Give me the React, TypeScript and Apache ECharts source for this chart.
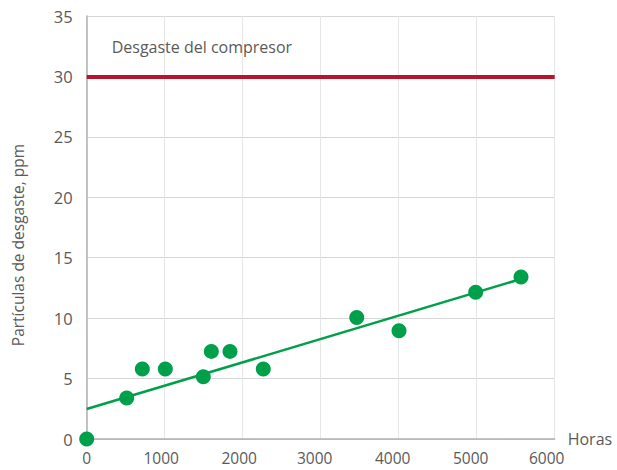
import React, { useEffect, useRef } from "react";
import * as echarts from "echarts";

const hours = [0, 513, 713, 1008, 1495, 1598, 1837, 2264, 3462, 4004, 4987, 5568];
const particles = [0, 3.4, 5.8, 5.8, 5.15, 7.25, 7.25, 5.8, 10.05, 8.95, 12.15, 13.4];
const trendX = [0, 5600];
const trendY = [2.48, 13.3];
const limitValue = 30;
const limitLabel = "Desgaste del compresor";
const xName = "Horas";
const yName = "Partículas de desgaste, ppm";

const FONT = "'Open Sans', 'Noto Sans', sans-serif";
const GRAY = "#5a5a5a";

export default function App() {
  const ref = useRef<HTMLDivElement>(null);
  useEffect(() => {
    if (!ref.current) return;
    const chart = echarts.init(ref.current, undefined, { renderer: "svg" });
    const lbl = { color: GRAY, fontSize: 15.5, fontFamily: FONT, lineHeight: 16 };
    chart.setOption({
      animation: false,
      grid: { left: 86.7, right: 62.3, top: 16, bottom: 31 },
      xAxis: {
        type: "value",
        min: 0,
        max: 6000,
        interval: 1000,
        name: xName,
        nameLocation: "end",
        nameGap: 13,
        nameTextStyle: { color: GRAY, fontSize: 16, fontFamily: FONT, verticalAlign: "middle" },
        axisLine: { show: true, lineStyle: { color: "#b0b0b0", width: 1.5 } },
        axisTick: { show: false },
        axisLabel: {
          ...lbl,
          margin: 11,
          formatter: (v: number) =>
            v === 0 ? "0" : v >= 6000 ? `{c|${v}}` : v >= 3000 ? `{b|${v}}` : `{a|${v}}`,
          rich: {
            a: { ...lbl, padding: [0, 7, 0, 0] },
            b: { ...lbl, padding: [0, 12, 0, 0] },
            c: { ...lbl, padding: [0, 16, 0, 0] },
          },
        },
        splitLine: { show: true, lineStyle: { color: "#e6e6e6", width: 1 } },
      },
      yAxis: {
        type: "value",
        min: 0,
        max: 35,
        interval: 5,
        axisLine: { show: true, lineStyle: { color: "#b0b0b0", width: 1.5 } },
        axisTick: { show: false },
        axisLabel: { color: GRAY, fontSize: 16.5, fontFamily: FONT, margin: 14 },
        splitLine: { show: true, lineStyle: { color: "#d6d6d6", width: 1 } },
      },
      graphic: [
        {
          type: "text",
          x: 18,
          y: 245,
          rotation: Math.PI / 2,
          style: {
            text: yName,
            fill: GRAY,
            fontSize: 15.5,
            fontFamily: FONT,
            textAlign: "center",
            textVerticalAlign: "middle",
          },
        },
      ],
      series: [
        {
          type: "line",
          data: trendX.map((x, i) => [x, trendY[i]]),
          showSymbol: false,
          symbol: "none",
          lineStyle: { color: "#00a04b", width: 2.5 },
          z: 2,
        },
        {
          type: "scatter",
          data: hours.map((h, i) => [h, particles[i]]),
          symbolSize: 15,
          itemStyle: { color: "#00a04b", opacity: 1 },
          z: 3,
          markLine: {
            symbol: "none",
            silent: true,
            lineStyle: { color: "#b8142e", width: 4, type: "solid" },
            label: {
              show: true,
              position: "insideStartTop",
              formatter: limitLabel,
              color: GRAY,
              fontSize: 16,
              fontFamily: FONT,
              distance: [25, 21],
            },
            data: [{ yAxis: limitValue }],
          },
        },
      ],
    });
    return () => chart.dispose();
  }, []);
  return <div ref={ref} style={{ width: 617, height: 470, position: "absolute", left: 0, top: 0 }} />;
}
